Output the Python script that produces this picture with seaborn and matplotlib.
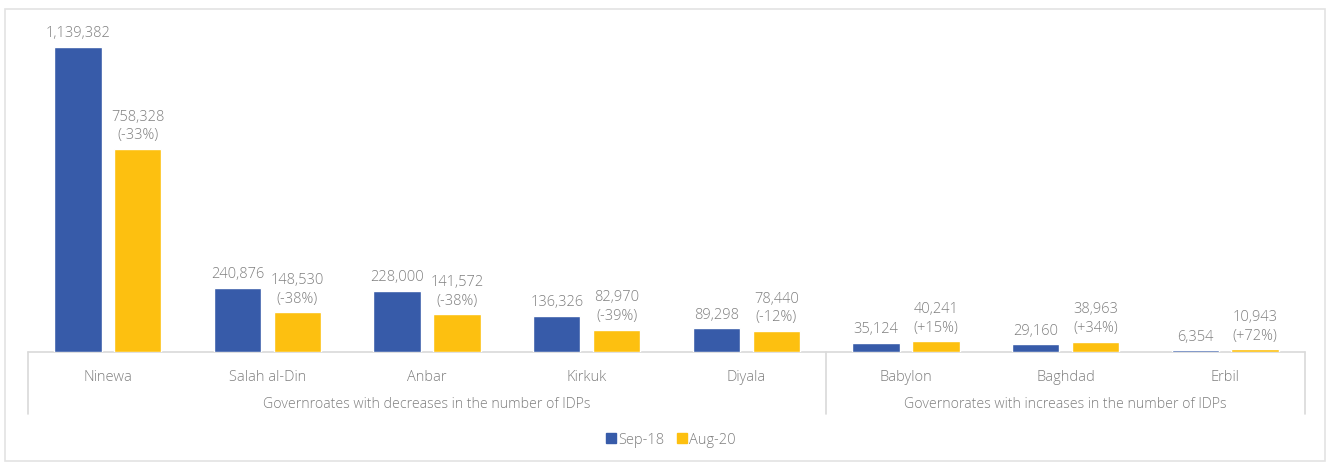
import matplotlib
matplotlib.use("Agg")
import matplotlib.pyplot as plt
import seaborn as sns
import pandas as pd
from matplotlib.patches import Rectangle
from matplotlib.lines import Line2D

governorates = ["Ninewa", "Salah al-Din", "Anbar", "Kirkuk", "Diyala", "Babylon", "Baghdad", "Erbil"]
sep18 = [1139382, 240876, 228000, 136326, 89298, 35124, 29160, 6354]
aug20 = [758328, 148530, 141572, 82970, 78440, 40241, 38963, 10943]
changes = ["-33%", "-38%", "-38%", "-39%", "-12%", "+15%", "+34%", "+72%"]
series = ["Sep-18", "Aug-20"]
groups = ["Governroates with decreases in the number of IDPs",
          "Governorates with increases in the number of IDPs"]
group_sizes = [5, 3]

colors = ["#375BA9", "#FDC010"]
text_color = "#7f7f7f"
line_color = "#d9d9d9"

df = pd.DataFrame({
    "gov": governorates * 2,
    "value": sep18 + aug20,
    "period": [series[0]] * len(governorates) + [series[1]] * len(governorates),
})

sns.set_theme(style="white")
plt.rcParams["font.family"] = ["Open Sans", "DejaVu Sans"]
plt.rcParams["font.weight"] = "light"

W, H = 1328, 462
fig = plt.figure(figsize=(W / 100, H / 100), dpi=100)
ax_left, ax_right, ax_top, ax_base = 28, 1305, 10, 352
ax = fig.add_axes([ax_left / W, (H - ax_base) / H, (ax_right - ax_left) / W, (ax_base - ax_top) / H])

sns.barplot(data=df, x="gov", y="value", hue="period", palette=colors,
            width=0.75, gap=0.21, ax=ax, legend=False, saturation=1)

ax.set_xlim(-0.5, len(governorates) - 0.5)
ax.set_ylim(0, 1139382 * 342 / 305)
for s in ax.spines.values():
    s.set_visible(False)
ax.set_yticks([])
ax.set_xlabel("")
ax.set_ylabel("")
ax.tick_params(axis="x", length=0, pad=13, labelsize=10.5, labelcolor=text_color)
for t in ax.get_xticklabels():
    t.set_fontweight("light")

# value labels
for bar, v in zip(ax.containers[0], sep18):
    ax.annotate(f"{v:,}", (bar.get_x() + bar.get_width() / 2, bar.get_height()),
                xytext=(0, 4), textcoords="offset points", ha="center", va="bottom",
                fontsize=10.5, color=text_color, fontweight="light")
for bar, v, c in zip(ax.containers[1], aug20, changes):
    ax.annotate(f"{v:,}\n({c})", (bar.get_x() + bar.get_width() / 2, bar.get_height()),
                xytext=(0, 4), textcoords="offset points", ha="center", va="bottom",
                fontsize=10.5, color=text_color, linespacing=1.35, fontweight="light")

# group box lines
trans = ax.get_xaxis_transform()
ybot = -(414 - ax_base) / (ax_base - ax_top)
ax.plot([-0.5, len(governorates) - 0.5], [0, 0], color=line_color, lw=1.2,
        transform=trans, clip_on=False, zorder=0)
edges = [-0.5]
for n in group_sizes:
    edges.append(edges[-1] + n)
for e in edges:
    ax.plot([e, e], [0, ybot], color=line_color, lw=1.2, transform=trans, clip_on=False)
ygrp = -(405 - ax_base) / (ax_base - ax_top)
for i, g in enumerate(groups):
    ax.text((edges[i] + edges[i + 1]) / 2, ygrp, g, transform=trans, ha="center", va="center",
            fontsize=10.2, color=text_color, fontweight="light")

# legend
handles = [Line2D([0], [0], marker="s", linestyle="", markersize=7, markerfacecolor=c,
                  markeredgecolor=c) for c in colors]
fig.legend(handles, series, loc="center", bbox_to_anchor=(670 / W, 1 - 440 / H), ncol=2,
           frameon=False, labelcolor=text_color, handletextpad=0.0,
           columnspacing=0.7, handlelength=1.0, prop={"weight": "light", "size": 10.5})

# figure border
fig.add_artist(Rectangle((5 / W, 1 / H), 1320 / W, 452 / H, transform=fig.transFigure,
                         fill=False, edgecolor="#e3e3e3", lw=1.2))

fig.savefig("out.png", dpi=100)
